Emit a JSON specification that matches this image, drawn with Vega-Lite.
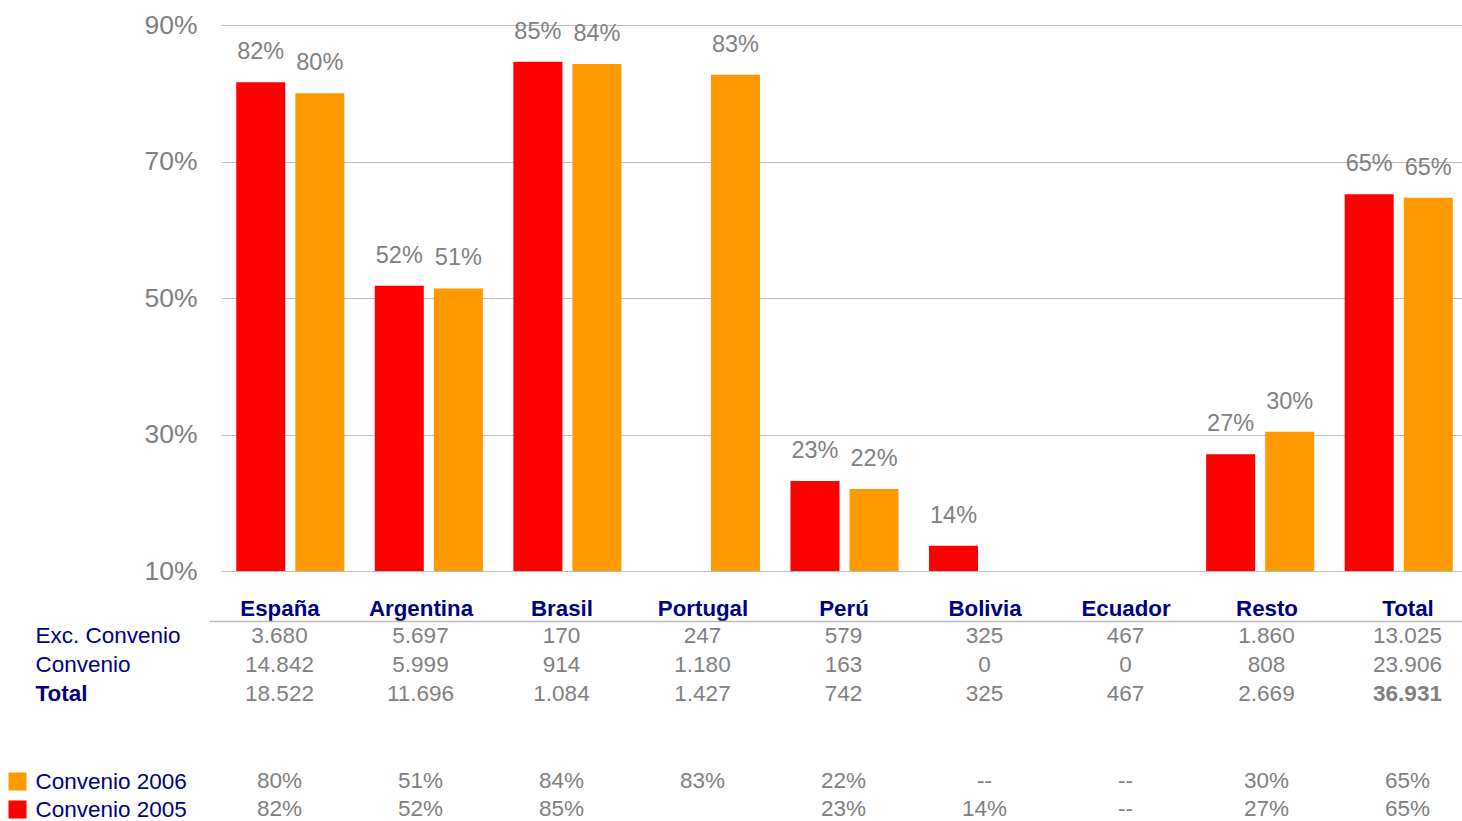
{
  "$schema": "https://vega.github.io/schema/vega-lite/v6.json",
  "background": "white",
  "padding": {"left": -1, "top": 12, "right": 0, "bottom": 0},
  "config": {
    "font": "Liberation Sans",
    "view": {"stroke": null},
    "locale": {"number": {"decimal": ",", "thousands": ".", "grouping": [3], "currency": ["", " €"]}}
  },
  "datasets": {
    "bars": [
      {"country": "España", "serie": "Convenio 2005", "pct": 0.816},
      {"country": "España", "serie": "Convenio 2006", "pct": 0.800},
      {"country": "Argentina", "serie": "Convenio 2005", "pct": 0.518},
      {"country": "Argentina", "serie": "Convenio 2006", "pct": 0.514},
      {"country": "Brasil", "serie": "Convenio 2005", "pct": 0.846},
      {"country": "Brasil", "serie": "Convenio 2006", "pct": 0.843},
      {"country": "Portugal", "serie": "Convenio 2006", "pct": 0.827},
      {"country": "Perú", "serie": "Convenio 2005", "pct": 0.232},
      {"country": "Perú", "serie": "Convenio 2006", "pct": 0.220},
      {"country": "Bolivia", "serie": "Convenio 2005", "pct": 0.137},
      {"country": "Resto", "serie": "Convenio 2005", "pct": 0.271},
      {"country": "Resto", "serie": "Convenio 2006", "pct": 0.304},
      {"country": "Total", "serie": "Convenio 2005", "pct": 0.652},
      {"country": "Total", "serie": "Convenio 2006", "pct": 0.647}
    ],
    "table": [
      {"country": "España", "row": "Exc. Convenio", "value": 3680},
      {"country": "Argentina", "row": "Exc. Convenio", "value": 5697},
      {"country": "Brasil", "row": "Exc. Convenio", "value": 170},
      {"country": "Portugal", "row": "Exc. Convenio", "value": 247},
      {"country": "Perú", "row": "Exc. Convenio", "value": 579},
      {"country": "Bolivia", "row": "Exc. Convenio", "value": 325},
      {"country": "Ecuador", "row": "Exc. Convenio", "value": 467},
      {"country": "Resto", "row": "Exc. Convenio", "value": 1860},
      {"country": "Total", "row": "Exc. Convenio", "value": 13025},
      {"country": "España", "row": "Convenio", "value": 14842},
      {"country": "Argentina", "row": "Convenio", "value": 5999},
      {"country": "Brasil", "row": "Convenio", "value": 914},
      {"country": "Portugal", "row": "Convenio", "value": 1180},
      {"country": "Perú", "row": "Convenio", "value": 163},
      {"country": "Bolivia", "row": "Convenio", "value": 0},
      {"country": "Ecuador", "row": "Convenio", "value": 0},
      {"country": "Resto", "row": "Convenio", "value": 808},
      {"country": "Total", "row": "Convenio", "value": 23906},
      {"country": "España", "row": "Total", "value": 18522},
      {"country": "Argentina", "row": "Total", "value": 11696},
      {"country": "Brasil", "row": "Total", "value": 1084},
      {"country": "Portugal", "row": "Total", "value": 1427},
      {"country": "Perú", "row": "Total", "value": 742},
      {"country": "Bolivia", "row": "Total", "value": 325},
      {"country": "Ecuador", "row": "Total", "value": 467},
      {"country": "Resto", "row": "Total", "value": 2669},
      {"country": "Total", "row": "Total", "value": 36931}
    ],
    "missing": [
      {"country": "Bolivia", "serie": "Convenio 2006", "label": "--"},
      {"country": "Ecuador", "serie": "Convenio 2006", "label": "--"},
      {"country": "Ecuador", "serie": "Convenio 2005", "label": "--"}
    ]
  },
  "bounds": "flush",
  "spacing": 50,
  "resolve": {"scale": {"x": "independent", "y": "independent", "color": "independent"}},
  "vconcat": [
    {
      "width": 1247,
      "height": 546,
      "data": {"name": "bars"},
      "encoding": {
        "x": {"field": "country", "type": "nominal", "sort": null,
          "scale": {"domain": ["España", "Argentina", "Brasil", "Portugal", "Perú", "Bolivia", "Ecuador", "Resto", "Total"], "paddingInner": 0.22, "paddingOuter": 0.11},
          "axis": null},
        "xOffset": {"field": "serie", "type": "nominal",
          "scale": {"domain": ["Convenio 2005", "Convenio 2006"], "paddingInner": 0.17, "paddingOuter": 0}},
        "y": {"field": "pct", "type": "quantitative",
          "scale": {"domain": [0.1, 0.9], "zero": false, "nice": false},
          "axis": {"values": [0.1, 0.3, 0.5, 0.7, 0.9], "format": ".0%", "title": null, "ticks": false, "tickSize": 0, "domain": false,
            "labelPadding": 24, "labelFontSize": 26.5, "labelColor": "#808080", "gridColor": "#bbbbbb", "gridWidth": 1}}
      },
      "layer": [
        {
          "mark": {"type": "bar"},
          "encoding": {
            "y2": {"datum": 0.1},
            "color": {"field": "serie", "type": "nominal",
              "scale": {"domain": ["Convenio 2005", "Convenio 2006"], "range": ["#FF0000", "#FF9900"]},
              "legend": null}
          }
        },
        {
          "mark": {"type": "text", "dy": -30, "baseline": "middle", "fontSize": 23.5, "color": "#808080"},
          "encoding": {"text": {"field": "pct", "type": "quantitative", "format": ".0%"}}
        }
      ]
    },
    {
      "width": 1260,
      "height": 96,
      "data": {"name": "table"},
      "encoding": {
        "x": {"field": "country", "type": "nominal", "sort": null,
          "scale": {"domain": ["España", "Argentina", "Brasil", "Portugal", "Perú", "Bolivia", "Ecuador", "Resto", "Total"], "range": [-12, 1257], "paddingInner": 0, "paddingOuter": 0},
          "axis": {"orient": "top", "title": null, "ticks": false, "tickSize": 0, "labelPadding": 6, "labelBaseline": "alphabetic", "labelAngle": 0,
            "labelFontSize": 22.3, "labelFontWeight": "bold", "labelColor": "#000080", "domainColor": "#bbbbbb", "domainWidth": 1.5, "grid": false}},
        "y": {"field": "row", "type": "nominal", "sort": null,
          "scale": {"domain": ["Exc. Convenio", "Convenio", "Total"], "range": [0, 87], "paddingInner": 0, "paddingOuter": 0},
          "axis": {"title": null, "ticks": false, "tickSize": 0, "domain": false, "grid": false, "labelAlign": "left", "labelPadding": 186,
            "labelFontSize": 22.5, "labelColor": "#000080",
            "labelFontWeight": {"condition": {"test": "datum.value === 'Total'", "value": "bold"}, "value": "normal"}}},
        "text": {"field": "value", "type": "quantitative", "format": ",d"}
      },
      "layer": [
        {
          "transform": [{"filter": "!(datum.country === 'Total' && datum.row === 'Total')"}],
          "mark": {"type": "text", "fontSize": 22.5, "color": "#808080", "baseline": "middle"}
        },
        {
          "transform": [{"filter": "datum.country === 'Total' && datum.row === 'Total'"}],
          "mark": {"type": "text", "fontSize": 22.5, "fontWeight": "bold", "color": "#808080", "baseline": "middle"}
        }
      ]
    },
    {
      "width": 1260,
      "height": 56,
      "encoding": {
        "x": {"field": "country", "type": "nominal", "sort": null,
          "scale": {"domain": ["España", "Argentina", "Brasil", "Portugal", "Perú", "Bolivia", "Ecuador", "Resto", "Total"], "range": [-12, 1257], "paddingInner": 0, "paddingOuter": 0},
          "axis": null},
        "y": {"field": "serie", "type": "nominal", "sort": null,
          "scale": {"domain": ["Convenio 2006", "Convenio 2005"], "paddingInner": 0, "paddingOuter": 0},
          "axis": {"title": null, "domain": false, "grid": false, "offset": 195, "ticks": true, "tickSize": 18, "tickWidth": 18,
            "tickColor": {"condition": {"test": "datum.value === 'Convenio 2006'", "value": "#FF9900"}, "value": "#FF0000"},
            "labelAlign": "left", "labelPadding": -27, "labelFontSize": 22.5, "labelColor": "#000080"}}
      },
      "layer": [
        {
          "data": {"name": "bars"},
          "mark": {"type": "text", "fontSize": 22.5, "color": "#808080", "baseline": "middle"},
          "encoding": {"text": {"field": "pct", "type": "quantitative", "format": ".0%"}}
        },
        {
          "data": {"name": "missing"},
          "mark": {"type": "text", "fontSize": 22.5, "color": "#808080", "baseline": "middle"},
          "encoding": {"text": {"field": "label", "type": "nominal"}}
        }
      ]
    }
  ]
}
